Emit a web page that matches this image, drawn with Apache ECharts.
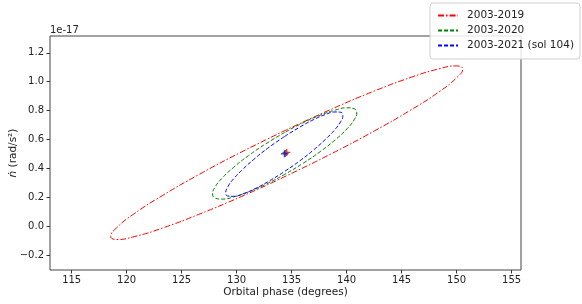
<!DOCTYPE html>
<html>
<head>
<meta charset="utf-8">
<script src="https://cdn.jsdelivr.net/npm/echarts@6/dist/echarts.min.js"></script>
<style>
html,body{margin:0;padding:0;background:#fff;}
#chart{width:582px;height:304px;}
</style>
</head>
<body>
<div id="chart"></div>
<script>
// Values in units of 1e-17 rad/s^2 (y) and degrees (x)
const seriesNames = ['2003-2019', '2003-2020', '2003-2021 (sol 104)'];
const xTicks = [115, 120, 125, 130, 135, 140, 145, 150, 155];
const yTicks = [-0.2, 0.0, 0.2, 0.4, 0.6, 0.8, 1.0, 1.2];

const redEllipse = [
  [134.55, 0.667], [130.41, 0.512], [126.55, 0.356], [123.24, 0.211], [120.69, 0.086],
  [119.10, -0.011], [118.55, -0.072], [119.10, -0.093], [120.69, -0.073], [123.24, -0.014],
  [126.55, 0.081], [130.41, 0.204], [134.55, 0.349], [138.69, 0.504], [142.55, 0.660],
  [145.86, 0.805], [148.41, 0.930], [150.00, 1.027], [150.55, 1.088], [150.00, 1.109],
  [148.41, 1.089], [145.86, 1.030], [142.55, 0.936], [138.69, 0.812], [134.55, 0.667]
];
const greenEllipse = [
  [134.36, 0.648], [132.66, 0.570], [131.08, 0.488], [129.73, 0.407], [128.68, 0.332],
  [128.03, 0.269], [127.81, 0.222], [128.03, 0.194], [128.68, 0.187], [129.73, 0.202],
  [131.08, 0.237], [132.66, 0.290], [134.36, 0.358], [136.06, 0.436], [137.64, 0.518],
  [138.99, 0.599], [140.04, 0.674], [140.69, 0.737], [140.92, 0.784], [140.69, 0.812],
  [140.04, 0.819], [138.99, 0.804], [137.64, 0.769], [136.06, 0.716], [134.36, 0.648]
];
const blueEllipse = [
  [134.33, 0.619], [132.95, 0.546], [131.67, 0.469], [130.57, 0.394], [129.72, 0.327],
  [129.19, 0.271], [129.01, 0.231], [129.19, 0.208], [129.72, 0.206], [130.57, 0.223],
  [131.67, 0.259], [132.95, 0.312], [134.33, 0.377], [135.71, 0.450], [136.99, 0.527],
  [138.09, 0.602], [138.94, 0.669], [139.47, 0.725], [139.65, 0.766], [139.47, 0.788],
  [138.94, 0.790], [138.09, 0.773], [136.99, 0.737], [135.71, 0.684], [134.33, 0.619]
];
const redCenter = [[134.55, 0.51]];
const greenCenter = [[134.43, 0.505]];
const blueCenter = [[134.35, 0.50]];

const colors = ['#ff0000', '#008000', '#0000ff'];
const dashes = [[6, 2, 1.5, 2], [4, 2], [4, 2]];
const plusPath = 'path://M4,0 H6 V4 H10 V6 H6 V10 H4 V6 H0 V4 H4 Z';
const FONT = 'DejaVu Sans';

const chart = echarts.init(document.getElementById('chart'), null, {renderer: 'canvas'});

function lineSeries(name, data, i) {
  return {
    name: name, type: 'line', data: data, smooth: 0.5, showSymbol: false, symbol: 'none',
    lineStyle: {color: colors[i], width: 1, type: dashes[i]},
    itemStyle: {color: colors[i]}, z: 2 + i, silent: true
  };
}
function centerSeries(data, i) {
  return {
    type: 'scatter', data: data, symbol: plusPath, symbolSize: 7,
    itemStyle: {color: colors[i]}, z: 10 + (i === 0 ? 2 : i === 1 ? 1 : 3), silent: true
  };
}

const fmt = v => (Math.abs(v) < 1e-9 ? '0.0' : v.toFixed(1)).replace('-', '\u2212');

chart.setOption({
  animation: false,
  backgroundColor: '#ffffff',
  textStyle: {fontFamily: FONT},
  grid: {left: 50, right: 61, top: 36, bottom: 34, containLabel: false, outerBoundsMode: 'none',
         show: true, borderColor: '#444', borderWidth: 1, backgroundColor: 'transparent'},
  xAxis: {
    type: 'value', min: 113.03, max: 155.85,
    name: 'Orbital phase (degrees)', nameLocation: 'middle', nameGap: 17, nameMoveOverlap: false,
    nameTextStyle: {fontFamily: FONT, fontSize: 10.5, color: '#222'},
    axisLine: {show: false, onZero: false},
    axisTick: {show: true, length: 3.5, lineStyle: {color: '#333'}, customValues: xTicks},
    axisLabel: {fontFamily: FONT, fontSize: 10, color: '#222', margin: 5, customValues: xTicks, formatter: v => String(v)},
    splitLine: {show: false}
  },
  yAxis: {
    type: 'value', min: -0.304, max: 1.316,
    name: '{i|ṅ} (rad/s²)', nameLocation: 'middle', nameGap: 31, nameRotate: 90, nameMoveOverlap: false,
    nameTextStyle: {fontFamily: FONT, fontSize: 10.5, color: '#222', rich: {i: {fontFamily: FONT, fontStyle: 'italic', fontSize: 10.5, color: '#222'}}},
    axisLine: {show: false, onZero: false},
    axisTick: {show: true, length: 3.5, lineStyle: {color: '#333'}, customValues: yTicks},
    axisLabel: {fontFamily: FONT, fontSize: 10, color: '#222', margin: 6, customValues: yTicks, formatter: fmt},
    splitLine: {show: false}
  },
  legend: {
    data: seriesNames, orient: 'vertical', right: 2, top: 3,
    backgroundColor: 'rgba(255,255,255,0.85)', borderColor: '#d0d0d0', borderWidth: 1, borderRadius: 3,
    padding: [7, 6, 8, 7], itemGap: 4, itemWidth: 20, itemHeight: 10,
    itemStyle: {color: 'transparent', borderColor: 'transparent', borderWidth: 0, opacity: 0},
    textStyle: {fontFamily: FONT, fontSize: 10.5, color: '#222', padding: [0, 0, 0, 4]}
  },
  graphic: [{
    type: 'text', left: 50, top: 25,
    style: {text: '1e-17', font: '10px "DejaVu Sans"', fill: '#222'}
  }],
  series: [
    lineSeries(seriesNames[0], redEllipse, 0),
    lineSeries(seriesNames[1], greenEllipse, 1),
    lineSeries(seriesNames[2], blueEllipse, 2),
    centerSeries(redCenter, 0),
    centerSeries(greenCenter, 1),
    centerSeries(blueCenter, 2)
  ]
});
</script>
</body>
</html>
